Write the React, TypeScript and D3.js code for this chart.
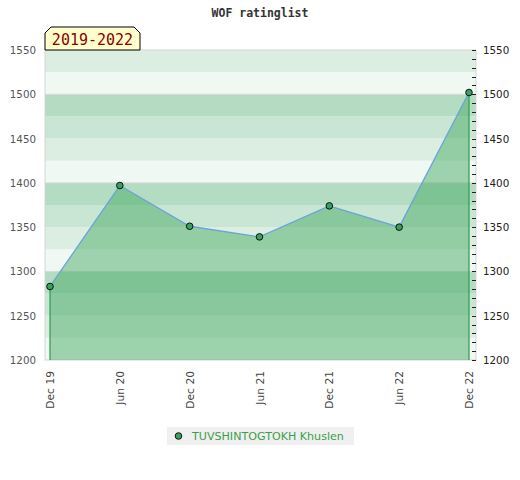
import React from "react";
import * as d3 from "d3";

const categories = ["Dec 19", "Jun 20", "Dec 20", "Jun 21", "Dec 21", "Jun 22", "Dec 22"];
const ratings = [1283, 1397, 1351, 1339, 1374, 1350, 1502];
const yTicks = [1200, 1250, 1300, 1350, 1400, 1450, 1500, 1550];
const bandColors = ["#b3dcc2", "#c8e6d3", "#dbeee1", "#eff8f2"];
const title = "WOF ratinglist";
const periodLabel = "2019-2022";
const playerName = "TUVSHINTOGTOKH Khuslen";

export default function App() {
  const W = 520, H = 480;
  const left = 45, right = 476, top = 50, bottom = 360;
  const y = d3.scaleLinear().domain([1200, 1550]).range([bottom, top]);
  const x = d3.scalePoint<string>().domain(categories).range([50, 469]);
  const pts = categories.map((c, i) => [x(c) as number, y(ratings[i])] as [number, number]);
  const line = d3.line<[number, number]>().x(d => d[0]).y(d => d[1])(pts) as string;
  const area = d3.area<[number, number]>().x(d => d[0]).y0(bottom).y1(d => d[1])(pts) as string;

  const bands: { v0: number; v1: number; color: string }[] = [];
  for (let v = 1200; v < 1550; v += 25) {
    const k = ((1500 - (v + 25)) / 25) % 4;
    const idx = ((k % 4) + 4) % 4;
    bands.push({ v0: v, v1: v + 25, color: bandColors[idx] });
  }
  const minor = d3.range(1200, 1551, 10);
  const gridLines = [1300, 1400, 1500];

  return (
    <svg width={W} height={H} style={{ position: "absolute", left: 0, top: 0 }} xmlns="http://www.w3.org/2000/svg">
      <rect x={0} y={0} width={W} height={H} fill="#fff" />
      <text x={260} y={17} textAnchor="middle" fontFamily="DejaVu Sans Mono" fontWeight="bold" fontSize={11.5} fill="#333">{title}</text>
      {bands.map((b, i) => (
        <rect key={i} x={left} y={y(b.v1)} width={right - left} height={y(b.v0) - y(b.v1)} fill={b.color} />
      ))}
      {gridLines.map(g => (
        <line key={g} x1={left} x2={right} y1={y(g)} y2={y(g)} stroke="#d8d8d8" strokeWidth={1} />
      ))}
      <rect x={left} y={top} width={right - left} height={bottom - top} fill="none" stroke="#d6d6d6" strokeWidth={1} />
      <path d={area} fill="#3ca55c" fillOpacity={0.45} />
      <line x1={pts[0][0]} x2={pts[0][0]} y1={pts[0][1]} y2={bottom} stroke="#2e9a4e" strokeWidth={1.2} />
      <line x1={pts[pts.length - 1][0]} x2={pts[pts.length - 1][0]} y1={pts[pts.length - 1][1]} y2={bottom} stroke="#2e9a4e" strokeWidth={1.2} />
      <path d={line} fill="none" stroke="#6aa4d8" strokeWidth={1.3} />
      {pts.map((p, i) => (
        <circle key={i} cx={p[0]} cy={p[1]} r={3.3} fill="#3aa060" stroke="#111" strokeWidth={1} />
      ))}
      {minor.map(m => (
        <line key={m} x1={472} x2={476} y1={Math.round(y(m)) + 0.5} y2={Math.round(y(m)) + 0.5} stroke="#222" strokeWidth={1} />
      ))}
      {yTicks.map(t => (
        <g key={t}>
          <text x={36} y={y(t) + 4} textAnchor="end" fontFamily="DejaVu Sans" fontSize={10.3} fill="#555">{t}</text>
          <text x={483} y={y(t) + 4} textAnchor="start" fontFamily="DejaVu Sans" fontSize={10.3} fill="#222">{t}</text>
        </g>
      ))}
      {categories.map(c => (
        <text key={c} transform={`translate(${(x(c) as number) + 4},${371}) rotate(-90)`} textAnchor="end" fontFamily="DejaVu Sans" fontSize={10.7} fill="#444">{c}</text>
      ))}
      <path d="M45,50 L45,33 L51,27 L134,27 L140,33 L140,50 Z" fill="#ffffcc" stroke="#000" strokeWidth={1} />
      <text x={92.5} y={45} textAnchor="middle" fontFamily="DejaVu Sans Mono" fontSize={15} fill="#8b0000">{periodLabel}</text>
      <rect x={167} y={427} width={187} height={18} fill="#f0f0f0" />
      <circle cx={178.5} cy={436} r={3.3} fill="#3aa060" stroke="#111" strokeWidth={1} />
      <text x={192} y={440} fontFamily="DejaVu Sans" fontSize={11.1} fill="#3a9e4e">{playerName}</text>
    </svg>
  );
}
